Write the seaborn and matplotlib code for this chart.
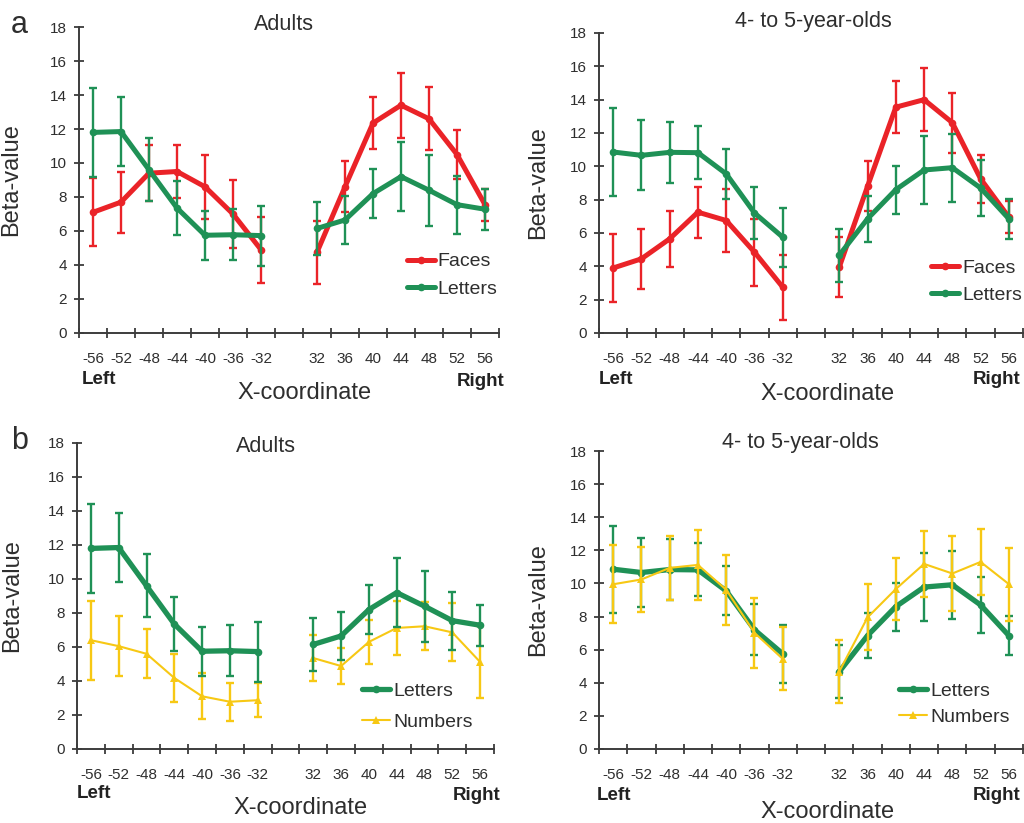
import numpy as np
import pandas as pd
import matplotlib
matplotlib.use("Agg")
import matplotlib.pyplot as plt
import seaborn as sns
from matplotlib.lines import Line2D

# ---------------- data ----------------
x_labels = ['-56', '-52', '-48', '-44', '-40', '-36', '-32',
            '32', '36', '40', '44', '48', '52', '56']

adult_faces     = [7.1, 7.7, 9.4, 9.5, 8.6, 7.0, 4.9, 4.75, 8.6, 12.35, 13.4, 12.6, 10.5, 7.55]
adult_faces_err = [2.0, 1.8, 1.65, 1.55, 1.9, 2.0, 1.95, 1.85, 1.5, 1.55, 1.9, 1.85, 1.45, 0.95]

adult_letters     = [11.8, 11.85, 9.6, 7.35, 5.75, 5.78, 5.73, 6.15, 6.65, 8.2, 9.2, 8.4, 7.55, 7.28]
adult_letters_err = [2.6, 2.05, 1.85, 1.58, 1.45, 1.5, 1.77, 1.55, 1.4, 1.45, 2.05, 2.1, 1.7, 1.22]

adult_numbers     = [6.4, 6.05, 5.6, 4.18, 3.1, 2.78, 2.87, 5.35, 4.88, 6.3, 7.12, 7.22, 6.86, 5.12]
adult_numbers_err = [2.33, 1.75, 1.45, 1.4, 1.35, 1.12, 1.0, 1.35, 1.05, 1.28, 1.57, 1.42, 1.7, 2.1]

kid_faces     = [3.9, 4.45, 5.65, 7.25, 6.75, 4.85, 2.75, 3.95, 8.8, 13.55, 14.0, 12.62, 9.25, 6.95]
kid_faces_err = [2.05, 1.8, 1.67, 1.53, 1.9, 2.0, 1.95, 1.8, 1.5, 1.56, 1.9, 1.8, 1.42, 0.97]

kid_letters     = [10.86, 10.66, 10.84, 10.82, 9.55, 7.2, 5.75, 4.67, 6.85, 8.6, 9.78, 9.92, 8.7, 6.85]
kid_letters_err = [2.63, 2.1, 1.85, 1.6, 1.48, 1.55, 1.77, 1.6, 1.37, 1.45, 2.05, 2.05, 1.7, 1.2]

kid_numbers     = [9.95, 10.24, 10.94, 11.12, 9.62, 7.02, 5.44, 4.68, 7.95, 9.66, 11.18, 10.6, 11.3, 9.96]
kid_numbers_err = [2.35, 1.95, 1.95, 2.1, 2.1, 2.1, 1.9, 1.93, 2.0, 1.85, 2.0, 2.25, 2.0, 2.2]

# ---------------- style ----------------
RED = '#ea2328'
GREEN = '#1f9156'
YELLOW = '#f7c814'
TXT = '#2e2e2e'
AX = '#3c3c3c'

sns.set_theme(style='ticks')
plt.rcParams['font.family'] = ['Liberation Sans', 'DejaVu Sans']
plt.rcParams['text.color'] = TXT
plt.rcParams['axes.labelcolor'] = TXT
plt.rcParams['xtick.color'] = AX
plt.rcParams['ytick.color'] = AX
plt.rcParams['xtick.labelcolor'] = TXT
plt.rcParams['ytick.labelcolor'] = TXT

W, H = 1024, 823
fig = plt.figure(figsize=(W / 100, H / 100), dpi=100)

# category positions, slot 7 is the empty gap between hemispheres
positions = [i if i < 7 else i + 1 for i in range(len(x_labels))]


def fx(px):
    return px / W


def fy(py):
    return 1 - py / H


def make_df(name, vals, errs):
    return pd.DataFrame({
        'pos': positions,
        'beta': vals,
        'err': errs,
        'series': name,
        'hemi': ['L' if p < 7 else 'R' for p in positions],
    })


def draw_series(ax, df, color, marker, lw, ms, z):
    for hemi, sub in df.groupby('hemi'):
        ax.errorbar(sub['pos'], sub['beta'], yerr=sub['err'], fmt='none',
                    ecolor=color, elinewidth=1.7, capsize=3.2, capthick=1.7,
                    zorder=z)
    sns.lineplot(data=df, x='pos', y='beta', units='hemi', estimator=None,
                 color=color, marker=marker, linewidth=lw, markersize=ms,
                 markeredgewidth=0, ax=ax, zorder=z + 1, legend=False,
                 sort=False)


def setup_axes(rect_px, title, title_xy, ylabel_x, legend_anchor, spacing,
               series, left_px, right_px, xlab_px):
    x0, x1, ytop, ybot = rect_px
    ax = fig.add_axes([fx(x0), fy(ybot), fx(x1 - x0), (ybot - ytop) / H])
    handles = []
    for (name, vals, errs, color, marker, lw, ms, z) in series:
        df = make_df(name, vals, errs)
        draw_series(ax, df, color, marker, lw, ms, z)
        handles.append(Line2D([0], [0], color=color, marker=marker, lw=lw,
                              markersize=ms, markeredgewidth=0, label=name))
    ax.set_xlim(-0.5, 14.5)
    ax.set_ylim(0, 18)
    ax.set_yticks(np.arange(0, 19, 2))
    ax.set_xticks(positions)
    ax.set_xticklabels(x_labels)
    ax.set_xticks(np.arange(-0.5, 15, 1.0), minor=True)
    ax.tick_params(axis='x', which='major', length=0, pad=14, labelsize=11)
    ax.tick_params(axis='x', which='minor', direction='inout', length=7,
                   width=1.3, color=AX)
    ax.tick_params(axis='y', which='major', direction='inout', length=7,
                   width=1.3, pad=5, labelsize=11, color=AX)
    for s in ('top', 'right'):
        ax.spines[s].set_visible(False)
    for s in ('left', 'bottom'):
        ax.spines[s].set_color(AX)
        ax.spines[s].set_linewidth(1.4)
    ax.set_xlabel('')
    ax.set_ylabel('Beta-value', fontsize=17)
    ax.yaxis.set_label_coords(ylabel_x, 0.5)
    ax.text(title_xy[0], title_xy[1], title, transform=ax.transAxes,
            ha='center', va='center', fontsize=15.5)
    leg = ax.legend(handles=handles, loc='upper left',
                    bbox_to_anchor=legend_anchor, frameon=False,
                    fontsize=14, handlelength=1.45, handletextpad=0.15,
                    borderpad=0, borderaxespad=0, labelspacing=spacing)
    for t in leg.get_texts():
        t.set_color(TXT)
    fig.text(fx(left_px[0]), fy(left_px[1]), 'Left', ha='left', va='center',
             fontsize=13.5, fontweight='bold', color='#222222')
    fig.text(fx(right_px[0]), fy(right_px[1]), 'Right', ha='right',
             va='center', fontsize=13.5, fontweight='bold', color='#222222')
    fig.text(fx(xlab_px[0]), fy(xlab_px[1]), 'X-coordinate', ha='center',
             va='center', fontsize=17, color=TXT)
    return ax


faces_a = ('Faces', adult_faces, adult_faces_err, RED, 'o', 3.6, 5.5, 3)
letters_a = ('Letters', adult_letters, adult_letters_err, GREEN, 'o', 3.6, 5.5, 5)
faces_k = ('Faces', kid_faces, kid_faces_err, RED, 'o', 3.6, 5.5, 3)
letters_k = ('Letters', kid_letters, kid_letters_err, GREEN, 'o', 3.6, 5.5, 5)
letters_a2 = ('Letters', adult_letters, adult_letters_err, GREEN, 'o', 3.8, 5.5, 5)
numbers_a = ('Numbers', adult_numbers, adult_numbers_err, YELLOW, '^', 1.5, 6, 3)
letters_k2 = ('Letters', kid_letters, kid_letters_err, GREEN, 'o', 3.8, 5.5, 3)
numbers_k = ('Numbers', kid_numbers, kid_numbers_err, YELLOW, '^', 1.5, 6, 5)

# Panel a, adults
setup_axes((79, 499, 27, 333), 'Adults', (0.488, 1.007), -0.136,
           (0.78, 0.262), 0.5, [faces_a, letters_a],
           (82, 380), (505, 382), (305, 393))
# Panel a, children
setup_axes((599, 1023, 33, 333), '4- to 5-year-olds', (0.505, 1.037), -0.118,
           (0.783, 0.247), 0.5, [faces_k, letters_k],
           (599, 379), (1021, 379), (828, 394))
# Panel b, adults
setup_axes((77, 494, 443, 749), 'Adults', (0.453, 0.987), -0.13,
           (0.683, 0.218), 0.68, [letters_a2, numbers_a],
           (77, 793), (500, 796), (301, 808))
# Panel b, children
setup_axes((599, 1023, 451, 749), '4- to 5-year-olds', (0.476, 1.030), -0.118,
           (0.708, 0.225), 0.45, [letters_k2, numbers_k],
           (597, 796), (1020, 796), (828, 812))

fig.text(fx(19), fy(25), 'a', ha='center', va='center', fontsize=22, color=TXT)
fig.text(fx(20), fy(441), 'b', ha='center', va='center', fontsize=22, color=TXT)

fig.savefig('out.png', dpi=100)
